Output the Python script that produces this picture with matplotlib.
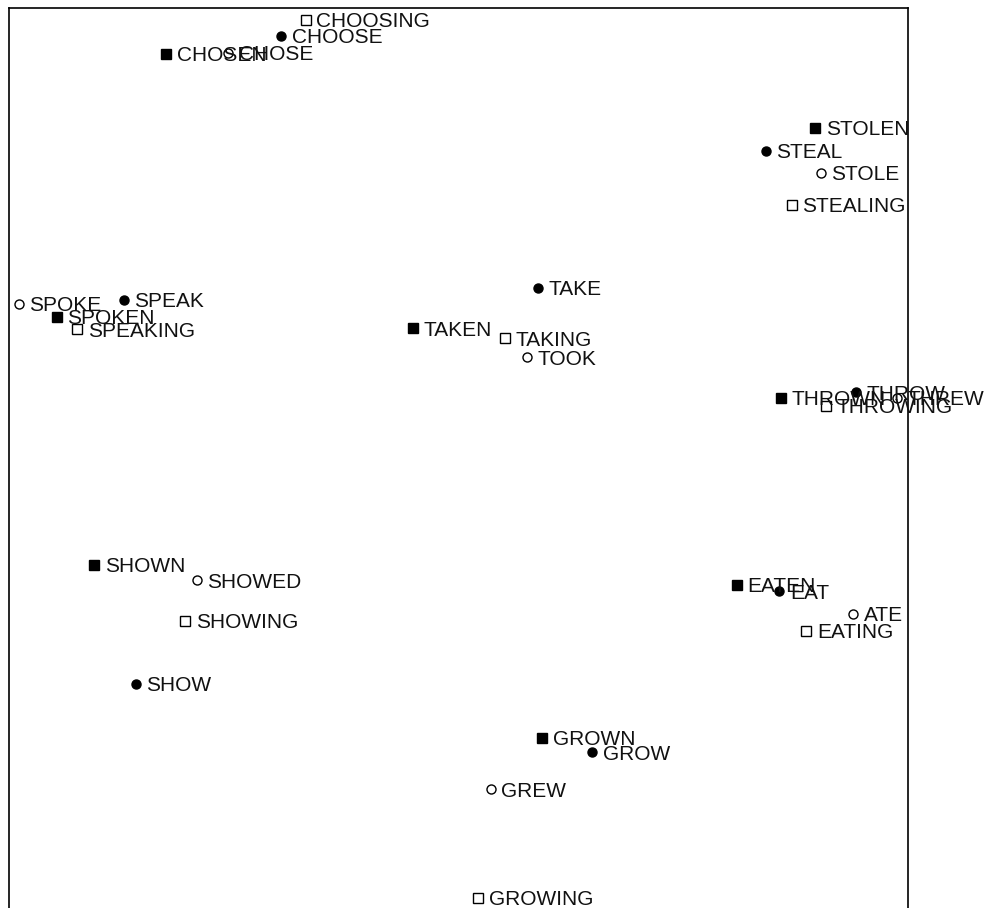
import matplotlib
matplotlib.use("Agg")
import matplotlib.pyplot as plt

plt.rcParams['font.family'] = ['Liberation Sans', 'DejaVu Sans']

# Verb forms and their 2-D projected coordinates
base_words = ["CHOOSE", "STEAL", "SPEAK", "TAKE", "THROW", "SHOW", "EAT", "GROW"]
base_x = [30.3, 84.2, 12.8, 58.8, 94.2, 14.1, 85.7, 64.9]
base_y = [96.9, 84.1, 67.6, 68.9, 57.3, 24.9, 35.2, 17.3]

past_words = ["CHOSE", "STOLE", "SPOKE", "TOOK", "THREW", "SHOWED", "ATE", "GREW"]
past_x = [24.4, 90.3, 1.1, 57.6, 98.8, 20.9, 93.9, 53.6]
past_y = [95.0, 81.7, 67.1, 61.2, 56.7, 36.4, 32.7, 13.2]

part_words = ["CHOSEN", "STOLEN", "SPOKEN", "TAKEN", "THROWN", "SHOWN", "EATEN", "GROWN"]
part_x = [17.5, 89.7, 5.3, 44.9, 85.9, 9.5, 81.0, 59.3]
part_y = [94.9, 86.7, 65.7, 64.4, 56.7, 38.1, 35.9, 18.9]

ger_words = ["CHOOSING", "STEALING", "SPEAKING", "TAKING", "THROWING", "SHOWING", "EATING", "GROWING"]
ger_x = [33.0, 87.1, 7.6, 55.2, 90.9, 19.6, 88.7, 52.2]
ger_y = [98.7, 78.1, 64.3, 63.3, 55.8, 31.9, 30.8, 1.1]

fig = plt.figure(figsize=(9.84, 9.08), dpi=100)
ax = fig.add_axes([9 / 984, 0.0, 899 / 984, 900 / 908])

groups = [
    (base_words, base_x, base_y, dict(marker='o', mfc='black', mec='black')),
    (past_words, past_x, past_y, dict(marker='o', mfc='white', mec='black')),
    (part_words, part_x, part_y, dict(marker='s', mfc='black', mec='black')),
    (ger_words, ger_x, ger_y, dict(marker='s', mfc='white', mec='black')),
]

for words, xs, ys, style in groups:
    ax.plot(xs, ys, linestyle='none', markersize=6.5, markeredgewidth=1.0,
            zorder=3, **style)
    for w, x, y in zip(words, xs, ys):
        ax.annotate(w, (x, y), xytext=(7.5, -5.3), textcoords='offset points',
                    ha='left', va='baseline', fontsize=15, color='#111111',
                    annotation_clip=False, zorder=4)

ax.set_xlim(0, 100)
ax.set_ylim(0, 100)
ax.set_xticks([])
ax.set_yticks([])
ax.spines['bottom'].set_visible(False)
for s in ('left', 'right', 'top'):
    ax.spines[s].set_linewidth(1.2)
    ax.spines[s].set_color('black')

fig.savefig("out.png", dpi=100)
